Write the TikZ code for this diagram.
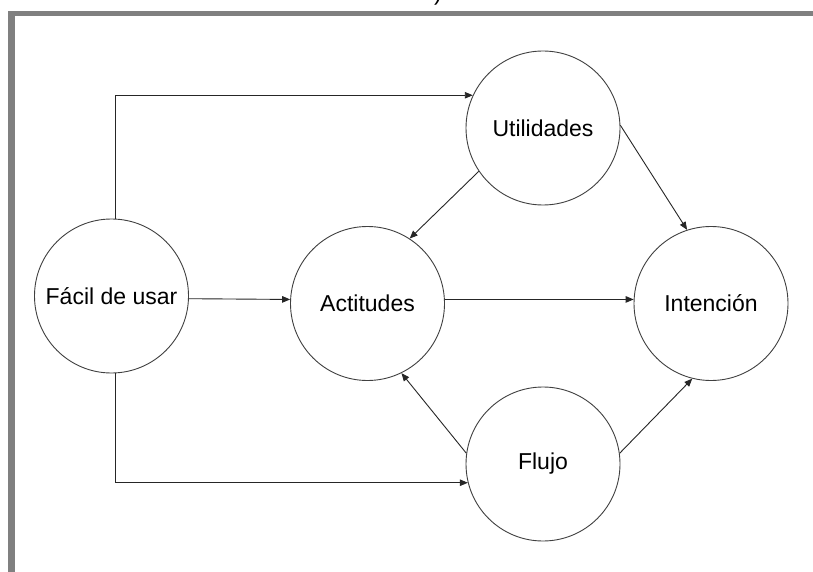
\documentclass[tikz,border=0pt]{standalone}
\usepackage{fontspec}
\setmainfont{Liberation Sans}
\usetikzlibrary{arrows.meta}
\begin{document}
\begin{tikzpicture}[x=1pt,y=-1pt,
  concept/.style={circle,draw=black!75,line width=0.9pt,minimum size=154pt,inner sep=0pt,
    font=\fontsize{23}{27}\selectfont},
  link/.style={draw=black!85,line width=0.9pt,-{Triangle[length=8pt,width=6.5pt]}}]
  \useasboundingbox (0,0) rectangle (813,572);
  % page frame
  \fill[white] (0,0) rectangle (813,572);
  \fill[black!50] (8,11) rectangle (813,16);
  \fill[black!50] (8,11) rectangle (15,572);
  \node[anchor=base,font=\fontsize{23}{27}\selectfont] (paren) at (438,1) {)};
  % concepts
  \node[concept] (fac)  at (111.5,296) {Fácil de usar};
  \node[concept] (util) at (543,128)   {Utilidades};
  \node[concept] (act)  at (367.5,303.5) {Actitudes};
  \node[concept] (int)  at (711,303.5) {Intención};
  \node[concept] (flu)  at (543,464)   {Flujo};
  % relations
  \draw[link] (fac.87) |- (util.155);
  \draw[link] (fac.-87) |- (flu.194);
  \draw[link] (fac.-2) -- (act.177);
  \draw[link] (act.3) -- (int.177);
  \draw[link] (util.214) -- (act.57);
  \draw[link] (util.2) -- (int.108);
  \draw[link] (flu.172) -- (act.-64);
  \draw[link] (flu.8) -- (int.-104);
\end{tikzpicture}
\end{document}
